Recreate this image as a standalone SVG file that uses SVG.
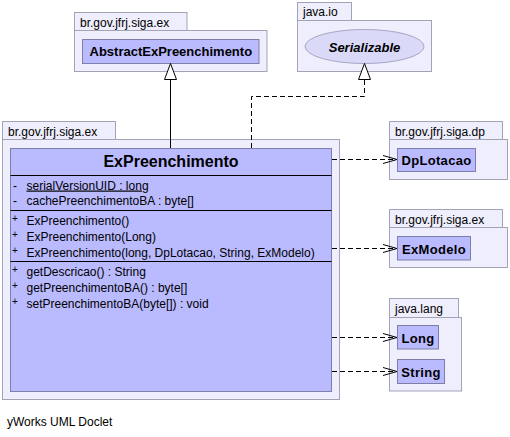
<svg xmlns="http://www.w3.org/2000/svg" width="510" height="437" viewBox="0 0 510 437">
<style>
.pkg{fill:#EEEEFC;stroke:#A3A3B8;stroke-width:1}
.cls{fill:#BABAFF;stroke:#7E7EA8;stroke-width:1}
.ell{fill:#DADAF8;stroke:#A6A6C6;stroke-width:1}
.plab{font-family:"Liberation Sans",Arial,sans-serif;font-size:12px;fill:#000}
.cname{font-family:"Liberation Sans",Arial,sans-serif;font-size:13px;font-weight:bold;fill:#000;text-anchor:middle}
.mem{font-family:"Liberation Sans",Arial,sans-serif;font-size:12px;fill:#000}
.vis{font-family:"Liberation Sans",Arial,sans-serif;font-size:10px;fill:#000}
.sep{stroke:#000;stroke-width:1}
.dep{fill:none;stroke:#000;stroke-width:1;stroke-dasharray:5,3}
.solid{fill:none;stroke:#000;stroke-width:1}
.head{fill:none;stroke:#000;stroke-width:1}
.tri{fill:#fff;stroke:#000;stroke-width:1}
</style>

<g id="pkg-abstract">
<rect class="pkg" x="74.5" y="12.5" width="112.5" height="18.5"/>
<rect class="pkg" x="74.5" y="30.5" width="192.5" height="41"/>
<text class="plab" x="80" y="26.5">br.gov.jfrj.siga.ex</text>
</g>
<g id="AbstractExPreenchimento">
<rect class="cls" x="82.5" y="39.5" width="176.5" height="24"/>
<text class="cname" x="170.8" y="56">AbstractExPreenchimento</text>
</g>

<g id="pkg-javaio">
<rect class="pkg" x="297.5" y="2.5" width="54" height="18"/>
<rect class="pkg" x="297.5" y="20.5" width="134" height="51"/>
<text class="plab" x="303" y="16">java.io</text>
</g>
<g id="Serializable">
<ellipse class="ell" cx="364.5" cy="46.5" rx="59.5" ry="17"/>
<text class="cname" x="364.5" y="51.5" font-style="italic">Serializable</text>
</g>

<g id="pkg-main">
<rect class="pkg" x="2.5" y="121.5" width="113" height="18"/>
<rect class="pkg" x="2.5" y="139.5" width="337" height="260"/>
<text class="plab" x="8" y="135.5">br.gov.jfrj.siga.ex</text>
</g>
<g id="ExPreenchimento">
<rect class="cls" x="10.5" y="148.5" width="321" height="243"/>
<text class="cname" x="171" y="166.5" style="font-size:16px">ExPreenchimento</text>
<line class="sep" x1="10.5" y1="175.5" x2="331.5" y2="175.5"/>
<text class="mem" x="13" y="189.5">-</text>
<text class="mem" x="26.5" y="189.5" text-decoration="underline">serialVersionUID : long</text>
<text class="mem" x="13" y="205">-</text>
<text class="mem" x="26.5" y="205">cachePreenchimentoBA : byte[]</text>
<line class="sep" x1="10.5" y1="210.5" x2="331.5" y2="210.5"/>
<text class="vis" x="12" y="222">+</text>
<text class="mem" x="26.5" y="224.5">ExPreenchimento()</text>
<text class="vis" x="12" y="238">+</text>
<text class="mem" x="26.5" y="240.5">ExPreenchimento(Long)</text>
<text class="vis" x="12" y="254">+</text>
<text class="mem" x="26.5" y="256.5">ExPreenchimento(long, DpLotacao, String, ExModelo)</text>
<line class="sep" x1="10.5" y1="261.5" x2="331.5" y2="261.5"/>
<text class="vis" x="12" y="273">+</text>
<text class="mem" x="26.5" y="275.5">getDescricao() : String</text>
<text class="vis" x="12" y="289">+</text>
<text class="mem" x="26.5" y="291.5">getPreenchimentoBA() : byte[]</text>
<text class="vis" x="12" y="305">+</text>
<text class="mem" x="26.5" y="307.5">setPreenchimentoBA(byte[]) : void</text>
</g>

<g id="pkg-dp">
<rect class="pkg" x="389.5" y="121.5" width="113" height="18"/>
<rect class="pkg" x="389.5" y="139.5" width="118" height="40"/>
<text class="plab" x="395" y="135.5">br.gov.jfrj.siga.dp</text>
</g>
<g id="DpLotacao">
<rect class="cls" x="397.5" y="148.5" width="78" height="23"/>
<text class="cname" x="436.5" y="165" letter-spacing="0.3">DpLotacao</text>
</g>

<g id="pkg-ex2">
<rect class="pkg" x="389.5" y="209.5" width="113" height="18"/>
<rect class="pkg" x="389.5" y="227.5" width="118" height="40"/>
<text class="plab" x="395" y="223.5">br.gov.jfrj.siga.ex</text>
</g>
<g id="ExModelo">
<rect class="cls" x="397.5" y="236.5" width="73" height="23.5"/>
<text class="cname" x="434" y="253.5" letter-spacing="0.3">ExModelo</text>
</g>

<g id="pkg-lang">
<rect class="pkg" x="389.5" y="298.5" width="69" height="19"/>
<rect class="pkg" x="389.5" y="317.5" width="72" height="73.5"/>
<text class="plab" x="395" y="312.5">java.lang</text>
</g>
<g id="Long">
<rect class="cls" x="397.5" y="325.5" width="41" height="23.5"/>
<text class="cname" x="418" y="342.5" letter-spacing="0.3">Long</text>
</g>
<g id="String">
<rect class="cls" x="397.5" y="359.5" width="47" height="24"/>
<text class="cname" x="421" y="376.5" letter-spacing="0.3">String</text>
</g>

<g id="connectors">
<line class="solid" x1="170.5" y1="148" x2="170.5" y2="79.5"/>
<polygon class="tri" points="170.5,63.5 164.5,79.5 176.5,79.5"/>
<path class="dep" d="M251.5,148 V96.5 H364.5 V79.5"/>
<polygon class="tri" points="364.5,63.5 358.5,79.5 370.5,79.5"/>
<line class="dep" x1="332" y1="159.5" x2="396" y2="159.5"/>
<path class="head" d="M383,155.5 L397,159.5 L383,163.5"/>
<line class="dep" x1="332" y1="248.5" x2="396" y2="248.5"/>
<path class="head" d="M383,244.5 L397,248.5 L383,252.5"/>
<line class="dep" x1="332" y1="337.5" x2="396" y2="337.5"/>
<path class="head" d="M383,333.5 L397,337.5 L383,341.5"/>
<line class="dep" x1="332" y1="371.5" x2="396" y2="371.5"/>
<path class="head" d="M383,367.5 L397,371.5 L383,375.5"/>
</g>

<text class="plab" x="7" y="426">yWorks UML Doclet</text>
</svg>
